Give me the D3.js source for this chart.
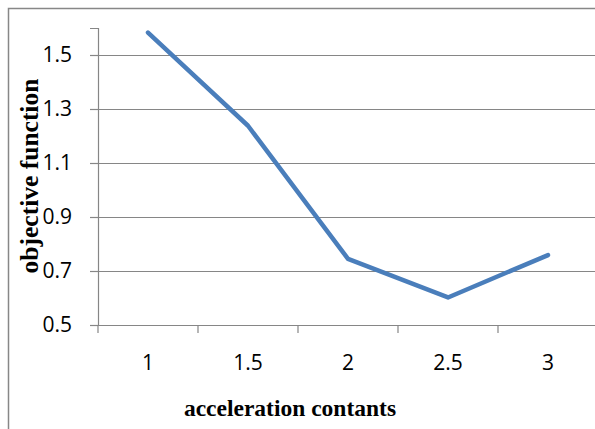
<!DOCTYPE html>
<html>
<head>
<meta charset="utf-8">
<script src="https://cdn.jsdelivr.net/npm/d3@7"></script>
<style>
  body { margin: 0; background: #fff; }
  svg { display: block; }
</style>
</head>
<body>
<svg></svg>
<script>
let width = 595,
  height = 429;

// chart data
let categories = ["1", "1.5", "2", "2.5", "3"];
let values = [1.583, 1.238, 0.745, 0.602, 0.759];
let yTicks = [0.5, 0.7, 0.9, 1.1, 1.3, 1.5];

let svg = d3.select("svg").attr("width", width).attr("height", height);

// plot area
let plotLeft = 98,
  plotTop = 28,
  plotBottom = 325,
  plotRight = 598;

let x = d3.scaleBand().domain(categories).range([plotLeft, plotRight]);
let y = d3.scaleLinear().domain([0.5, 1.6]).range([plotBottom, plotTop]);

// outer chart border (cropped on right and bottom)
svg
  .append("path")
  .attr("d", "M8.5," + height + "V8.5H" + width)
  .attr("fill", "none")
  .attr("stroke", "#878787")
  .attr("stroke-width", 1.5);

// gridlines
svg
  .append("g")
  .selectAll("line")
  .data(yTicks.slice(1))
  .enter()
  .append("line")
  .attr("x1", plotLeft)
  .attr("x2", width)
  .attr("y1", (d) => Math.round(y(d)) + 0.5)
  .attr("y2", (d) => Math.round(y(d)) + 0.5)
  .attr("stroke", "#868686")
  .attr("stroke-width", 1.2);

// y axis
let yAxis = svg
  .append("g")
  .attr("transform", "translate(" + plotLeft + ",0)")
  .call(d3.axisLeft(y).tickValues(yTicks).tickSize(8).tickPadding(18).tickFormat(d3.format(".1f")));

// x axis with ticks between categories
let xAxis = svg
  .append("g")
  .attr("transform", "translate(0," + plotBottom + ")")
  .call(d3.axisBottom(x).tickSize(0).tickPadding(30));

xAxis
  .selectAll(".sep")
  .data(categories)
  .enter()
  .append("line")
  .attr("class", "sep")
  .attr("x1", (d) => x(d))
  .attr("x2", (d) => x(d))
  .attr("y1", 0)
  .attr("y2", 8);

[yAxis, xAxis].forEach((g) => {
  g.select(".domain").attr("stroke", "#868686").attr("stroke-width", 1.2);
  g.selectAll("line").attr("stroke", "#868686").attr("stroke-width", 1.2);
  g.selectAll("text")
    .attr("fill", "#000")
    .style("font-family", "'Open Sans', sans-serif")
    .style("font-size", "21px");
});
xAxis.select(".domain").attr("d", "M" + plotLeft + ",0.5H" + width);

// data line
let line = d3
  .line()
  .x((d, i) => x(categories[i]) + x.bandwidth() / 2)
  .y((d) => y(d));

svg
  .append("path")
  .datum(values)
  .attr("d", line)
  .attr("fill", "none")
  .attr("stroke", "#4a7ebb")
  .attr("stroke-width", 4.5)
  .attr("stroke-linejoin", "round")
  .attr("stroke-linecap", "round");

// axis titles
svg
  .append("text")
  .attr("x", 290)
  .attr("y", 416)
  .attr("text-anchor", "middle")
  .style("font-family", "'Liberation Serif', 'Times New Roman', serif")
  .style("font-weight", "bold")
  .style("font-size", "23.5px")
  .text("acceleration contants");

svg
  .append("text")
  .attr("transform", "translate(38,176) rotate(-90)")
  .attr("text-anchor", "middle")
  .style("font-family", "'Liberation Serif', 'Times New Roman', serif")
  .style("font-weight", "bold")
  .style("font-size", "25.5px")
  .text("objective function");
</script>
</body>
</html>
